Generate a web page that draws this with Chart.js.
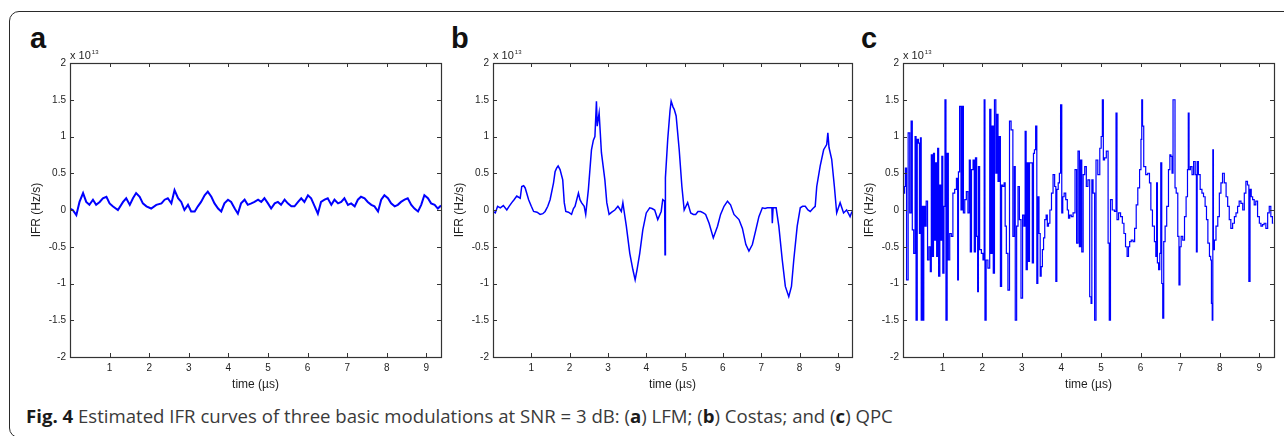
<!DOCTYPE html>
<html>
<head>
<meta charset="utf-8">
<script src="https://cdn.jsdelivr.net/npm/chart.js@4.4.1/dist/chart.umd.min.js"></script>
<style>
  html, body { margin: 0; padding: 0; background: #fff; }
  body { width: 1284px; height: 436px; position: relative; overflow: hidden; font-family: "Liberation Sans", Arial, sans-serif; }
  #frame { position: absolute; left: 9px; top: 11px; width: 1300px; height: 427px; box-sizing: border-box;
           border: 1.5px solid #2a2a2a; border-radius: 10px; }
  .letter { position: absolute; font: bold 29px "Liberation Sans", Arial, sans-serif; line-height: 29px; color: #111; }
  canvas { position: absolute; }
  #caption { position: absolute; left: 26px; top: 404px; font-family: "Open Sans", sans-serif; font-size: 18.6px;
             line-height: 23px; color: #3a3a3a; white-space: nowrap; }
  #caption b { color: #1a1a1a; }
</style>
</head>
<body>
<div id="frame"></div>
<div class="letter" style="left:30px;top:24px">a</div>
<div class="letter" style="left:451px;top:24px">b</div>
<div class="letter" style="left:861px;top:24px">c</div>
<canvas id="chartA" width="440" height="360" style="left:10px;top:40px"></canvas>
<canvas id="chartB" width="428" height="360" style="left:433px;top:40px"></canvas>
<canvas id="chartC" width="440" height="360" style="left:843px;top:40px"></canvas>
<div id="caption"><b>Fig. 4</b> Estimated IFR curves of three basic modulations at SNR = 3 dB: (<b>a</b>) LFM; (<b>b</b>) Costas; and (<b>c</b>) QPC</div>

<script>
// axis ticks (values in units of 1e13 Hz/s, time in us)
const xTicks = [1, 2, 3, 4, 5, 6, 7, 8, 9];
const yTicks = [-2, -1.5, -1, -0.5, 0, 0.5, 1, 1.5, 2];
const xMax = 9.37;

// (a) LFM
const timeA = [0.00, 0.07, 0.16, 0.24, 0.33, 0.41, 0.49, 0.58, 0.66, 0.75,
  0.83, 0.92, 1.00, 1.08, 1.21, 1.34, 1.42, 1.51, 1.59, 1.67,
  1.76, 1.84, 1.93, 2.05, 2.18, 2.31, 2.39, 2.47, 2.56, 2.64,
  2.73, 2.81, 2.89, 2.98, 3.06, 3.15, 3.23, 3.31, 3.40, 3.48,
  3.57, 3.65, 3.74, 3.82, 3.90, 3.99, 4.07, 4.16, 4.24, 4.32,
  4.41, 4.49, 4.58, 4.66, 4.75, 4.83, 4.91, 5.00, 5.08, 5.17,
  5.25, 5.33, 5.42, 5.50, 5.59, 5.67, 5.76, 5.84, 5.92, 6.01,
  6.09, 6.18, 6.26, 6.34, 6.43, 6.51, 6.60, 6.68, 6.77, 6.85,
  6.93, 7.02, 7.10, 7.19, 7.27, 7.35, 7.44, 7.52, 7.61, 7.69,
  7.78, 7.86, 7.94, 8.03, 8.11, 8.20, 8.28, 8.36, 8.45, 8.53,
  8.62, 8.70, 8.79, 8.87, 8.95, 9.04, 9.12, 9.21, 9.29, 9.37];
const ifrA = [0.02, 0.00, -0.07, 0.11, 0.23, 0.11, 0.07, 0.14, 0.07, 0.11,
  0.16, 0.18, 0.09, 0.05, 0.00, 0.11, 0.16, 0.07, 0.16, 0.23,
  0.18, 0.09, 0.05, 0.02, 0.07, 0.09, 0.14, 0.16, 0.09, 0.27,
  0.16, 0.11, 0.00, 0.07, -0.02, -0.02, 0.05, 0.11, 0.20, 0.25,
  0.18, 0.09, 0.02, -0.02, 0.09, 0.14, 0.11, 0.02, -0.05, 0.09,
  0.14, 0.07, 0.09, 0.11, 0.14, 0.11, 0.16, 0.09, 0.02, 0.09,
  0.11, 0.07, 0.14, 0.09, 0.05, 0.05, 0.11, 0.16, 0.11, 0.20,
  0.16, 0.05, -0.05, 0.11, 0.14, 0.16, 0.07, 0.14, 0.09, 0.11,
  0.16, 0.07, 0.09, 0.05, 0.14, 0.18, 0.16, 0.11, 0.07, 0.05,
  -0.02, 0.14, 0.20, 0.16, 0.09, 0.05, 0.07, 0.11, 0.14, 0.16,
  0.07, 0.02, -0.02, 0.07, 0.20, 0.16, 0.09, 0.07, 0.02, 0.06];

// (b) Costas
const timeB = [0.00, 0.06, 0.12, 0.19, 0.27, 0.36, 0.42, 0.49, 0.55, 0.62,
  0.71, 0.75, 0.80, 0.84, 0.93, 1.00, 1.06, 1.15, 1.23, 1.30,
  1.36, 1.43, 1.49, 1.58, 1.62, 1.66, 1.70, 1.75, 1.82, 1.86,
  1.90, 1.97, 2.05, 2.10, 2.14, 2.19, 2.23, 2.27, 2.31, 2.38,
  2.42, 2.49, 2.57, 2.62, 2.66, 2.70, 2.72, 2.75, 2.77, 2.80,
  2.83, 2.92, 2.97, 3.03, 3.10, 3.18, 3.26, 3.30, 3.35, 3.39,
  3.44, 3.48, 3.57, 3.65, 3.71, 3.76, 3.83, 3.91, 4.00, 4.09,
  4.15, 4.22, 4.30, 4.39, 4.43, 4.48, 4.49, 4.50, 4.56, 4.62,
  4.65, 4.70, 4.73, 4.78, 4.86, 4.93, 4.99, 5.08, 5.16, 5.23,
  5.29, 5.35, 5.42, 5.49, 5.55, 5.64, 5.75, 5.86, 5.94, 6.03,
  6.12, 6.20, 6.29, 6.42, 6.51, 6.60, 6.68, 6.77, 6.86, 6.94,
  7.03, 7.10, 7.16, 7.22, 7.28, 7.29, 7.31, 7.39, 7.46, 7.55,
  7.63, 7.72, 7.79, 7.85, 7.94, 8.02, 8.08, 8.15, 8.22, 8.28,
  8.35, 8.41, 8.45, 8.54, 8.63, 8.71, 8.74, 8.77, 8.84, 8.91,
  8.97, 9.06, 9.15, 9.23, 9.32, 9.37];
const ifrB = [-0.02, -0.04, 0.05, 0.03, 0.06, 0.00, 0.05, 0.10, 0.14, 0.19,
  0.16, 0.32, 0.33, 0.30, 0.14, 0.05, -0.02, -0.03, -0.06, -0.05,
  -0.02, 0.05, 0.14, 0.37, 0.52, 0.57, 0.60, 0.55, 0.41, 0.10,
  -0.02, -0.03, -0.06, 0.02, 0.05, 0.15, 0.23, 0.14, 0.10, 0.05,
  -0.06, 0.28, 0.82, 0.95, 1.00, 1.48, 1.14, 1.25, 1.32, 1.05,
  0.78, 0.41, 0.10, -0.06, -0.03, 0.00, 0.05, 0.02, -0.02, 0.10,
  -0.08, -0.22, -0.59, -0.81, -0.95, -0.81, -0.59, -0.27, -0.04, 0.03,
  0.02, 0.00, -0.13, -0.02, 0.14, 0.12, -0.61, 0.44, 0.96, 1.35,
  1.48, 1.40, 1.37, 1.28, 0.82, 0.32, 0.00, 0.10, -0.04, -0.06,
  -0.06, -0.02, -0.02, -0.04, -0.06, -0.18, -0.38, -0.22, -0.06, 0.05,
  0.12, 0.07, -0.06, -0.13, -0.25, -0.47, -0.56, -0.47, -0.27, -0.09,
  0.03, 0.02, 0.03, 0.03, 0.03, -0.18, 0.03, 0.03, -0.22, -0.68,
  -1.04, -1.18, -1.04, -0.68, -0.22, 0.03, 0.05, 0.05, 0.00, -0.02,
  0.02, 0.05, 0.32, 0.60, 0.82, 0.89, 1.05, 0.85, 0.69, 0.32,
  -0.04, 0.10, -0.04, 0.00, -0.09, -0.02];

// (c) QPC
const timeC = [0.00, 0.03, 0.05, 0.07, 0.11, 0.15, 0.19, 0.22, 0.25, 0.29,
  0.32, 0.34, 0.38, 0.40, 0.43, 0.45, 0.47, 0.50, 0.51, 0.54,
  0.57, 0.60, 0.64, 0.67, 0.71, 0.72, 0.76, 0.78, 0.81, 0.84,
  0.86, 0.89, 0.91, 0.95, 0.97, 0.99, 1.02, 1.05, 1.07, 1.10,
  1.13, 1.16, 1.20, 1.24, 1.28, 1.33, 1.37, 1.39, 1.41, 1.45,
  1.48, 1.51, 1.54, 1.58, 1.62, 1.66, 1.69, 1.71, 1.75, 1.79,
  1.81, 1.85, 1.87, 1.90, 1.91, 1.96, 2.00, 2.04, 2.06, 2.08,
  2.12, 2.17, 2.21, 2.23, 2.27, 2.29, 2.33, 2.36, 2.38, 2.42,
  2.44, 2.48, 2.50, 2.54, 2.57, 2.59, 2.63, 2.67, 2.71, 2.75,
  2.80, 2.82, 2.85, 2.89, 2.92, 2.96, 3.00, 3.04, 3.07, 3.10,
  3.12, 3.16, 3.18, 3.21, 3.25, 3.28, 3.31, 3.33, 3.37, 3.39,
  3.42, 3.45, 3.48, 3.50, 3.54, 3.56, 3.60, 3.63, 3.66, 3.69,
  3.73, 3.77, 3.81, 3.85, 3.87, 3.90, 3.94, 3.96, 4.00, 4.02,
  4.05, 4.09, 4.13, 4.17, 4.19, 4.23, 4.27, 4.32, 4.37, 4.40,
  4.44, 4.47, 4.50, 4.53, 4.57, 4.61, 4.65, 4.69, 4.74, 4.76,
  4.78, 4.82, 4.86, 4.89, 4.95, 4.99, 5.02, 5.05, 5.07, 5.11,
  5.16, 5.20, 5.22, 5.26, 5.31, 5.37, 5.39, 5.42, 5.47, 5.52,
  5.56, 5.60, 5.64, 5.68, 5.71, 5.74, 5.79, 5.83, 5.87, 5.91,
  5.95, 6.00, 6.02, 6.04, 6.06, 6.10, 6.16, 6.20, 6.25, 6.27,
  6.33, 6.37, 6.40, 6.41, 6.44, 6.47, 6.50, 6.52, 6.55, 6.57,
  6.60, 6.64, 6.68, 6.73, 6.75, 6.78, 6.81, 6.83, 6.86, 6.88,
  6.92, 6.96, 6.98, 7.01, 7.04, 7.09, 7.13, 7.17, 7.20, 7.21,
  7.24, 7.28, 7.32, 7.36, 7.40, 7.42, 7.44, 7.48, 7.53, 7.57,
  7.61, 7.65, 7.68, 7.72, 7.76, 7.78, 7.80, 7.82, 7.83, 7.85,
  7.88, 7.93, 7.97, 8.01, 8.05, 8.09, 8.14, 8.18, 8.22, 8.26,
  8.30, 8.35, 8.39, 8.43, 8.47, 8.51, 8.56, 8.60, 8.64, 8.68,
  8.72, 8.75, 8.78, 8.81, 8.85, 8.89, 8.93, 8.98, 9.02, 9.06,
  9.10, 9.14, 9.19, 9.23, 9.27, 9.31, 9.35];
const ifrC = [0.30, 0.23, 0.32, 0.57, -0.95, 1.05, -0.04, 1.21, -0.27, -0.59,
  1.00, -1.50, 0.96, 0.91, -0.32, 0.98, -1.50, 0.05, -1.50, 0.05,
  -0.22, 0.12, -0.68, -0.50, -0.84, 0.75, -0.63, 0.77, -0.41, 0.64,
  -0.63, 0.84, -0.90, 0.34, -0.41, 0.73, -0.86, 0.05, 1.50, -1.50,
  0.77, -0.68, -0.32, -0.36, 0.23, 0.28, 0.43, -0.95, 0.52, 1.41,
  0.00, 1.41, -0.04, 0.14, 0.25, -0.04, 0.68, -0.57, 0.55, 0.68,
  -0.57, 0.71, -0.36, -1.11, 0.59, -0.54, -0.59, -0.68, 1.50, -1.50,
  -0.68, -0.79, 1.37, -0.59, 1.14, -0.86, 1.50, 0.50, 1.30, 0.39,
  1.00, -1.04, 0.34, 0.32, 0.37, -0.22, -0.59, -1.09, 1.21, 1.09,
  -0.36, 0.59, -1.50, -0.22, 0.32, -0.13, -1.20, -0.07, -0.22, 1.07,
  -0.81, 0.64, -0.70, 0.64, 0.64, -0.72, 0.77, 0.82, 1.14, -1.00,
  0.18, -0.32, -0.90, -0.77, -0.54, -0.38, -0.13, -0.07, -0.22, -0.18,
  0.00, 0.23, 0.48, 0.32, -0.97, 0.28, 0.37, 0.50, 1.43, -0.04,
  0.18, 0.23, 0.14, 0.00, -0.11, -0.07, -0.09, -0.04, 0.55, -0.45,
  0.80, -0.50, 0.68, -0.57, 0.48, 0.59, 0.32, 0.41, -1.18, -1.27,
  0.41, 0.23, -1.50, 0.68, 0.48, 0.84, 1.00, 1.50, 0.68, 0.71,
  0.80, -0.45, -1.50, 0.14, 0.00, -0.02, 1.32, -0.13, -0.04, -0.09,
  -0.18, -0.32, -0.50, -0.63, -0.50, -0.43, -0.41, -0.43, -0.25, 0.07,
  0.30, 0.55, 0.96, 1.50, 1.14, 0.59, 0.48, 0.50, 0.37, 0.00,
  -0.22, -0.43, -0.63, 0.37, -0.72, -0.81, -0.59, 0.64, -1.00, -1.47,
  -0.43, -0.22, 0.05, 0.55, 0.75, 0.73, 0.50, 1.50, 1.50, 0.30,
  0.23, -0.36, -1.02, -0.50, -0.36, -0.41, -0.09, 0.18, 0.55, 1.32,
  0.55, 0.59, 0.48, 0.66, 0.48, -0.57, 0.66, 0.48, 0.28, 0.23,
  0.18, 0.05, -0.13, -0.45, -0.63, -0.68, -1.27, -1.50, 0.82, -0.54,
  -0.41, -0.22, -0.09, 0.23, 0.37, 0.50, 0.37, 0.18, 0.05, -0.13,
  -0.25, -0.18, -0.09, -0.04, 0.05, 0.12, 0.09, 0.00, 0.23, 0.39,
  0.34, -0.97, 0.28, 0.18, 0.14, 0.07, 0.12, -0.09, -0.18, -0.22,
  -0.20, -0.18, -0.25, -0.04, 0.05, -0.09, -0.18];

const FONT = '"Liberation Sans", Arial, sans-serif';
const INK = '#1e1e1e';

// MATLAB-like box with inward ticks and the x10^13 exponent
const matlabFrame = {
  id: 'matlabFrame',
  afterDraw(chart) {
    const { ctx, chartArea: a, scales: { x, y } } = chart;
    ctx.save();
    ctx.strokeStyle = '#333';
    ctx.lineWidth = 1;
    ctx.beginPath();
    xTicks.forEach(v => {
      const px = Math.round(x.getPixelForValue(v)) + 0.5;
      ctx.moveTo(px, a.bottom); ctx.lineTo(px, a.bottom - 4);
      ctx.moveTo(px, a.top); ctx.lineTo(px, a.top + 4);
    });
    yTicks.forEach(v => {
      const py = Math.round(y.getPixelForValue(v)) + 0.5;
      ctx.moveTo(a.left, py); ctx.lineTo(a.left + 4, py);
      ctx.moveTo(a.right, py); ctx.lineTo(a.right - 4, py);
    });
    ctx.stroke();
    ctx.lineWidth = 1.2;
    ctx.strokeRect(Math.round(a.left) + 0.5, Math.round(a.top) + 0.5, Math.round(a.width), Math.round(a.height));
    ctx.fillStyle = INK;
    ctx.font = '11px ' + FONT;
    ctx.fillText('x 10', a.left, a.top - 4);
    const w = ctx.measureText('x 10').width;
    ctx.font = '6px ' + FONT;
    ctx.fillText('13', a.left + w + 1, a.top - 9);
    ctx.restore();
  }
};

function makePanel(id, times, values, lineWidth, stepped) {
  const points = times.map((t, i) => ({ x: t, y: values[i] }));
  return new Chart(document.getElementById(id), {
    type: 'line',
    data: {
      datasets: [{
        data: points,
        borderColor: '#0000ff',
        borderWidth: lineWidth,
        pointRadius: 0,
        tension: 0,
        stepped: stepped,
        fill: false
      }]
    },
    options: {
      responsive: false,
      devicePixelRatio: 1,
      animation: false,
      events: [],
      layout: { padding: { top: 23, right: 9, left: 0, bottom: 0 } },
      plugins: { legend: { display: false }, tooltip: { enabled: false } },
      scales: {
        x: {
          type: 'linear',
          min: 0,
          max: xMax,
          afterBuildTicks: s => { s.ticks = xTicks.map(v => ({ value: v })); },
          afterFit: s => { s.height = 43; },
          grid: { display: false, drawTicks: false },
          border: { display: false },
          ticks: { padding: 5, color: INK, font: { family: FONT, size: 10 }, maxRotation: 0, autoSkip: false },
          title: { display: true, text: 'time (µs)', color: INK, font: { family: FONT, size: 12 }, padding: { top: 0, bottom: 8 } }
        },
        y: {
          min: -2,
          max: 2,
          afterBuildTicks: s => { s.ticks = yTicks.map(v => ({ value: v })); },
          afterFit: s => { s.width = 60; },
          grid: { display: false, drawTicks: false },
          border: { display: false },
          ticks: { padding: 4, color: INK, font: { family: FONT, size: 10 }, callback: v => String(v) },
          title: { display: true, text: 'IFR (Hz/s)', color: INK, font: { family: FONT, size: 12 }, padding: { top: 19, bottom: 0 } }
        }
      }
    },
    plugins: [matlabFrame]
  });
}

makePanel('chartA', timeA, ifrA, 2, false);
makePanel('chartB', timeB, ifrB, 1.5, false);
makePanel('chartC', timeC, ifrC, 1.2, 'middle');
</script>
</body>
</html>
